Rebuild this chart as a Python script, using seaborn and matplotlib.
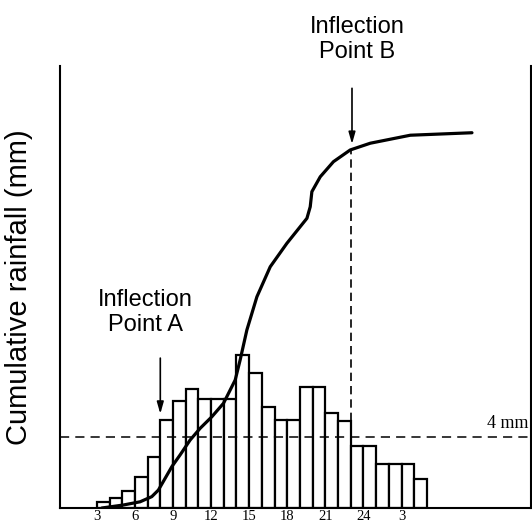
import numpy as np
import pandas as pd
import matplotlib
matplotlib.use('Agg')
import matplotlib.pyplot as plt
import matplotlib.transforms as mtransforms
import seaborn as sns

# Hourly rainfall (mm), bars start at hour 3 and run into the next morning
hours = list(range(3, 29))
rain = [0.32, 0.54, 0.98, 1.73, 2.85, 4.98, 6.0, 6.7, 6.14, 6.14, 6.14, 8.62, 7.59,
        5.67, 4.96, 4.96, 6.84, 6.84, 5.33, 4.92, 3.47, 3.47, 2.48, 2.48, 2.48, 1.63]

# Cumulative rainfall curve (same vertical units)
curve_h = [3.4, 5.1, 6.41, 7.33, 7.85, 8.38, 8.91, 9.56, 10.35, 11.14, 12.06, 12.98,
           13.9, 14.29, 14.82, 15.61, 16.66, 17.97, 19.55, 19.81, 19.94, 20.6, 21.64,
           22.96, 24.54, 27.69, 32.55]
curve_mm = [0.0, 0.17, 0.35, 0.64, 1.01, 1.67, 2.33, 2.99, 3.83, 4.49, 5.14, 5.9,
            7.21, 8.34, 10.03, 11.9, 13.59, 14.91, 16.32, 16.97, 17.82, 18.66, 19.51,
            20.17, 20.55, 21.0, 21.14]

tick_pos = [3, 6, 9, 12, 15, 18, 21, 24, 27]
tick_labels = ['3', '6', '9', '12', '15', '18', '21', '24', '3']

threshold = 4
point_a = 8
point_b = 23

sns.set_style('white')
plt.rcParams['font.family'] = ['Liberation Sans', 'DejaVu Sans']
plt.rcParams['text.color'] = 'black'
plt.rcParams['axes.labelcolor'] = 'black'
plt.rcParams['xtick.color'] = 'black'

fig = plt.figure(figsize=(5.32, 5.27), dpi=100)
ax = fig.add_axes([60 / 532, 19 / 527, 471 / 532, 442 / 527])

df = pd.DataFrame({'hour': [h + 0.5 for h in hours], 'rain': rain})
sns.barplot(data=df, x='hour', y='rain', native_scale=True, width=1.0,
            color='white', edgecolor='black', linewidth=1.6, ax=ax)

sns.lineplot(x=curve_h, y=curve_mm, sort=False, color='black', linewidth=2.3, ax=ax)

# 4 mm threshold line
ax.axhline(threshold, color='black', lw=1.1, linestyle=(0, (6, 4)))
trans = mtransforms.blended_transform_factory(ax.transAxes, ax.transData)
ax.text(0.994, threshold + 0.5, '4 mm', transform=trans, ha='right', va='baseline',
        fontsize=13, family='Liberation Serif')

# dashed drop from point B to the bar top
ax.plot([point_b, point_b], [rain[hours.index(point_b - 1)], 20.2], color='black',
        lw=1.2, linestyle=(0, (5, 3)))

arrow = dict(arrowstyle='-|>,head_length=0.7,head_width=0.2', color='black', lw=1.2)
ax.annotate('', xy=(point_a, 5.15), xytext=(point_a, 8.6), arrowprops=arrow)
ax.annotate('', xy=(point_b + 0.1, 20.35), xytext=(point_b + 0.1, 23.8),
            arrowprops=arrow, annotation_clip=False)

ax.text(6.8, 11.0, 'Inflection\nPoint A', ha='center', va='center', fontsize=17)
ax.text(23.5, 26.4, 'Inflection\nPoint B', ha='center', va='center', fontsize=17)

ax.set_xlim(0.1, 37.2)
ax.set_ylim(0, 24.9)
ax.set_xticks(tick_pos)
ax.set_xticklabels(tick_labels, family='Liberation Serif', fontsize=10.5)
ax.set_yticks([])
ax.tick_params(axis='x', length=0, pad=1.5)
ax.set_xlabel('')
ax.set_ylabel('Cumulative rainfall (mm)', fontsize=21)
ax.yaxis.set_label_coords(-0.057, 0.5)

sns.despine(ax=ax, top=True, right=False)
for side in ['left', 'right', 'bottom']:
    ax.spines[side].set_color('black')
    ax.spines[side].set_linewidth(1.5)

fig.savefig('out.png', dpi=100)
